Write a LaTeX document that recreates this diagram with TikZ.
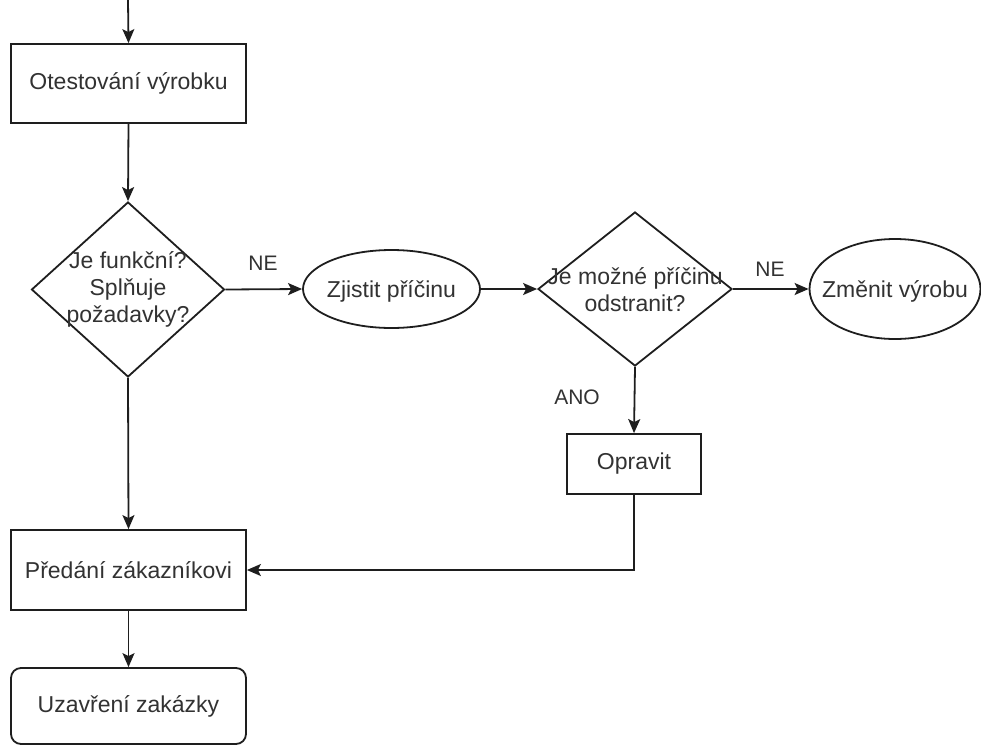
\documentclass[tikz,border=0pt]{standalone}
\usepackage{fontspec}
\setmainfont{Liberation Sans}
\usetikzlibrary{shapes.geometric,arrows.meta}
\definecolor{linec}{RGB}{30,30,30}
\definecolor{textc}{RGB}{50,50,50}
\tikzset{
  flow/.style={draw=linec, line width=1.8pt, -{Stealth[length=14pt,width=12pt,inset=3pt]}},
  boxshape/.style={draw=linec, line width=1.8pt, fill=white, inner sep=0pt},
  txt/.style={text=textc, font=\fontsize{23}{27}\selectfont, align=center, inner sep=0pt},
  lbl/.style={text=textc, font=\fontsize{21}{24}\selectfont, inner sep=0pt}
}
\begin{document}
\begin{tikzpicture}[x=1pt,y=-1pt]
  \useasboundingbox (0,0) rectangle (981,744);

  % process boxes
  \node[boxshape, rectangle, minimum width=235pt, minimum height=79pt] (test) at (128.5,83.5) {};
  \node[txt] (testT) at (test) {Otestování výrobku};

  \node[boxshape, rectangle, minimum width=235pt, minimum height=80pt] (hand) at (128.5,570) {};
  \node[txt] (handT) at (hand) {Předání zákazníkovi};

  \node[boxshape, rectangle, rounded corners=10pt, minimum width=235pt, minimum height=76pt] (close) at (128.5,706) {};
  \node[txt] (closeT) at (close) {Uzavření zakázky};

  \node[boxshape, rectangle, minimum width=134pt, minimum height=60pt] (fix) at (634,464) {};
  \node[txt] (fixT) at (fix) {Opravit};

  % decisions
  \node[boxshape, diamond, minimum width=193pt, minimum height=175pt] (dec1) at (128,289.5) {};
  \node[txt] (dec1T) at (dec1) {Je funkční?\\Splňuje\\požadavky?};

  \node[boxshape, diamond, minimum width=194pt, minimum height=154pt] (dec2) at (635,289) {};
  \node[txt] (dec2T) at (635,290) {Je možné příčinu\\odstranit?};

  % terminals (ellipses)
  \node[boxshape, ellipse, minimum width=177pt, minimum height=78pt] (cause) at (391.5,289) {};
  \node[txt] (causeT) at (391.5,291) {Zjistit příčinu};

  \node[boxshape, ellipse, minimum width=171pt, minimum height=100pt] (change) at (895,289) {};
  \node[txt] (changeT) at (895,291) {Změnit výrobu};

  % entry
  \coordinate (start) at (128,0);
  \draw[flow] (start) -- (test.north);

  % connectors
  \draw[flow] (test.south) -- (dec1.north);
  \draw[flow] (dec1.east) -- (cause.west);
  \draw[flow] (cause.east) -- (dec2.west);
  \draw[flow] (dec2.east) -- (change.west);
  \draw[flow] (dec2.south) -- (fix.north);
  \draw[flow] (dec1.south) -- (hand.north);
  \draw[flow] (fix.south) |- (hand.east);
  \draw[flow] (hand.south) -- (close.north);

  % branch labels
  \node[lbl] (ne1) at (263,263) {NE};
  \node[lbl] (ne2) at (770,269) {NE};
  \node[lbl] (ano) at (577,397) {ANO};
\end{tikzpicture}
\end{document}
